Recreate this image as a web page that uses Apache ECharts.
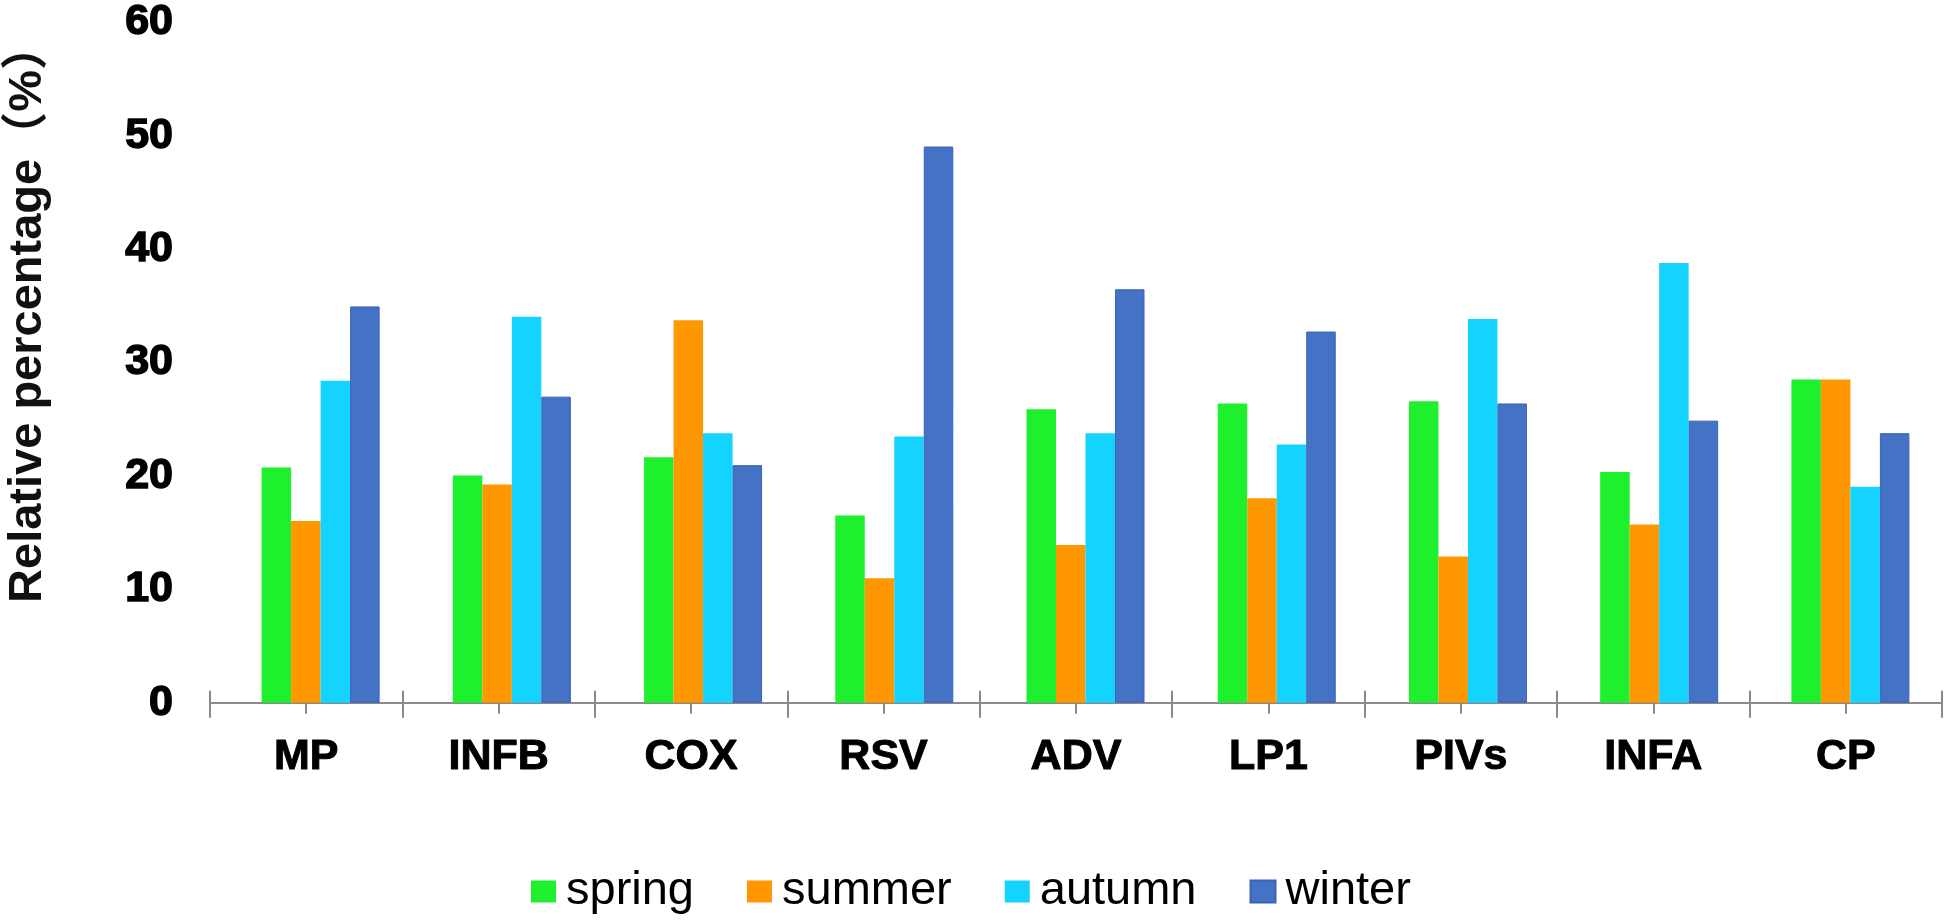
<!DOCTYPE html>
<html>
<head>
<meta charset="utf-8">
<script src="https://cdn.jsdelivr.net/npm/echarts@6/dist/echarts.min.js"></script>
<style>
html,body{margin:0;padding:0;background:#fff;}
#chart{width:1946px;height:922px;}
</style>
</head>
<body>
<div id="chart"></div>
<script>
const categories = ['MP','INFB','COX','RSV','ADV','LP1','PIVs','INFA','CP'];
const seriesNames = ['spring','summer','autumn','winter'];
const spring = [20.6, 19.9, 21.5, 16.4, 25.7, 26.2, 26.4, 20.2, 28.3];
const summer = [15.9, 19.1, 33.5, 10.9, 13.8, 17.9, 12.8, 15.6, 28.3];
const autumn = [28.2, 33.8, 23.6, 23.3, 23.6, 22.6, 33.6, 38.5, 18.9];
const winter = [34.7, 26.8, 20.8, 48.7, 36.2, 32.5, 26.2, 24.7, 23.6];
const yTicks = [0, 10, 20, 30, 40, 50, 60];
const yTitle = 'Relative percentage（%）';

const colors = ['#1FF02E', '#FF9700', '#14D3FF', '#4472C4'];
const borders = ['#1FF02E', '#FF9700', '#14D3FF', '#3A62B8'];
const values = [spring, summer, autumn, winter];

const chart = echarts.init(document.getElementById('chart'), null, {renderer: 'canvas'});
const G = {top: 17.5, height: 685.2, width: 1732};
const axisGrey = '#8a8a8a';
const FONT = 'Liberation Sans, Arial, sans-serif';
const grids = [
  {left: 210, top: G.top, width: G.width, height: G.height},
  {left: 210, top: G.top, width: G.width, height: G.height},
  {left: 210, top: G.top, width: G.width, height: G.height},
  {left: 210, top: G.top, width: G.width, height: G.height},
  {left: 225, top: G.top, width: G.width, height: G.height}
];
function hiddenY(i){
  return {type:'value', gridIndex:i, min:yTicks[0], max:yTicks[yTicks.length-1], interval:10, show:false};
}
const xAxes = [
  {type:'category', gridIndex:0, data:categories, boundaryGap:true,
   axisLine:{show:true, lineStyle:{color:axisGrey, width:2}},
   axisTick:{show:true, inside:false, length:15, lineStyle:{color:axisGrey, width:2}},
   axisLabel:{show:true, margin:33, color:'#000', fontSize:43, fontWeight:'bold', fontFamily:FONT,
              textBorderColor:'#000', textBorderWidth:1}},
  {type:'category', gridIndex:1, data:categories, boundaryGap:true,
   axisLine:{show:false}, axisLabel:{show:false},
   axisTick:{show:true, inside:true, length:12, lineStyle:{color:axisGrey, width:2}}},
  {type:'category', gridIndex:2, data:categories, boundaryGap:true,
   axisLine:{show:false}, axisLabel:{show:false},
   axisTick:{show:true, alignWithLabel:true, inside:false, length:11, lineStyle:{color:axisGrey, width:2}}},
  {type:'category', gridIndex:3, data:categories, boundaryGap:true,
   axisLine:{show:false}, axisLabel:{show:false},
   axisTick:{show:true, alignWithLabel:true, inside:true, length:7, lineStyle:{color:axisGrey, width:2}}},
  {type:'category', gridIndex:4, data:categories, boundaryGap:true, show:false}
];
const yAxes = [
  {type:'value', gridIndex:0, min:yTicks[0], max:yTicks[yTicks.length-1], interval:10,
   axisLine:{show:false}, axisTick:{show:false}, splitLine:{show:false},
   axisLabel:{show:true, margin:37, color:'#000', fontSize:43, fontWeight:'bold', fontFamily:FONT,
              textBorderColor:'#000', textBorderWidth:1.5}},
  hiddenY(1), hiddenY(2), hiddenY(3), hiddenY(4)
];
const series = seriesNames.map((name, i) => ({
  name: name,
  type: 'bar',
  xAxisIndex: 4,
  yAxisIndex: 4,
  barWidth: 29.5,
  barGap: '0%',
  data: values[i],
  itemStyle: {color: colors[i], borderColor: borders[i], borderWidth: i === 3 ? 1 : 0},
  emphasis: {disabled: true},
  animation: false
}));

chart.setOption({
  backgroundColor: '#ffffff',
  animation: false,
  color: colors,
  grid: grids,
  xAxis: xAxes,
  yAxis: yAxes,
  legend: {
    data: seriesNames,
    left: 526,
    top: 863,
    icon: 'rect',
    itemWidth: 25,
    itemHeight: 22,
    itemGap: 53,
    textStyle: {fontSize: 47, lineHeight: 22, color: '#000', fontFamily: FONT, padding: [0, 0, 0, 5]}
  },
  graphic: [{
    type: 'text',
    x: 28,
    y: 313,
    rotation: Math.PI / 2,
    style: {
      text: yTitle,
      fontSize: 47,
      fontWeight: 'bold',
      fontFamily: 'Liberation Sans, Arial, Noto Sans CJK SC, sans-serif',
      fill: '#111',
      textAlign: 'center',
      textVerticalAlign: 'middle',
      verticalAlign: 'middle'
    }
  }],
  series: series
});
</script>
</body>
</html>
